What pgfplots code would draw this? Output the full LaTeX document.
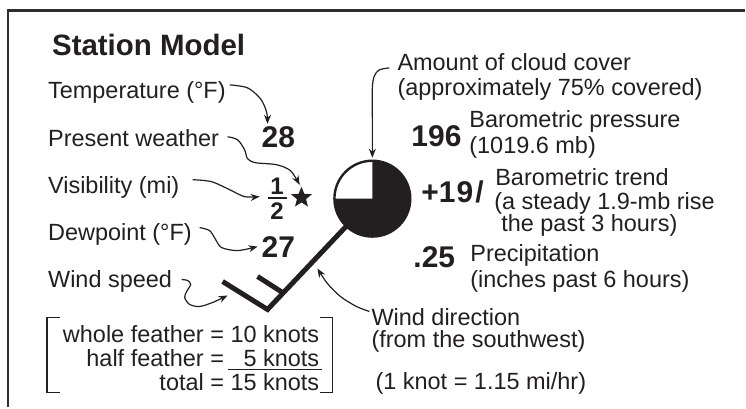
\documentclass[border=0pt]{standalone}
\usepackage{pgfplots}
\pgfplotsset{compat=1.18}
\usepackage{fontspec}
\setmainfont{Liberation Sans}
\usetikzlibrary{arrows.meta,shapes.geometric}
\definecolor{ink}{RGB}{35,31,32}
\definecolor{framec}{RGB}{45,45,45}
\begin{document}
\begin{tikzpicture}
\begin{axis}[hide axis, scale only axis, width=746pt, height=408pt,
  xmin=0, xmax=746, ymin=0, ymax=408, y dir=reverse, clip=false]
\path (axis cs:0,0) rectangle (axis cs:746,408);
% frame
\addplot[line width=2.6pt, color=framec, line join=miter] coordinates {(8,408) (8,10.5) (746,10.5)};
\tikzset{txt/.style={anchor=base west, inner sep=0pt, text=ink, font=\fontsize{23.5}{28}\selectfont},
         num/.style={anchor=base west, inner sep=0pt, text=ink, font=\fontsize{30}{34}\selectfont\bfseries},
         arr/.style={smooth, line width=1.2pt, color=ink, -{Stealth[length=9pt,width=7pt]}}}
% title and left labels
\node[anchor=base west, inner sep=0pt, text=ink, font=\fontsize{29.5}{34}\selectfont\bfseries] at (52,56) {Station Model};
\node[txt] at (48,99) {Temperature (°F)};
\node[txt] at (48,147) {Present weather};
\node[txt] at (48,194) {Visibility (mi)};
\node[txt] at (48,241) {Dewpoint (°F)};
\node[txt] at (48,288) {Wind speed};
% bracket box
\addplot[line width=1.4pt, color=ink] coordinates {(60,318) (47,318) (47,393) (60,393)};
\addplot[line width=1.4pt, color=ink] coordinates {(321,318) (333,318) (333,393) (321,393)};
\node[txt, anchor=base east] at (320,343) {whole feather = 10 knots};
\node[txt, anchor=base east] at (320,367) {half feather = \hphantom{1}5 knots};
\node[txt, anchor=base east] at (320,391) {total = 15 knots};
\addplot[line width=1.2pt, color=ink] coordinates {(228,370.5) (323,370.5)};
% numbers near station
\node[num] at (262,148) {28};
\node[num] at (262,258) {27};
\node[anchor=base, inner sep=0pt, text=ink, font=\fontsize{24}{28}\selectfont\bfseries] at (277.5,195) {1};
\node[anchor=base, inner sep=0pt, text=ink, font=\fontsize{24}{28}\selectfont\bfseries] at (277.5,220) {2};
\addplot[line width=2pt, color=ink] coordinates {(268,198) (287,198)};
\node[star, star points=5, star point ratio=2.3, fill=ink, minimum size=22pt, inner sep=0pt] at (302,198) {};
% wind barb
\addplot[line width=5pt, color=ink, line join=miter, line cap=butt] coordinates {(223,282) (268,310) (373,199)};
\addplot[line width=5pt, color=ink, line cap=butt] coordinates {(258,277) (283,293)};
% station circle
\fill[ink] (axis cs:373,199) circle[radius=38pt];
\fill[white] (axis cs:373,199) -- ++(-38pt,0pt) arc[start angle=180, end angle=90, radius=38pt] -- cycle;
\draw[ink, line width=2.4pt] (axis cs:373,199) circle[radius=38pt];
% right labels
\node[txt] at (398,71) {Amount of cloud cover};
\node[txt] at (398,96) {(approximately 75\% covered)};
\node[num] at (412,147) {196};
\node[txt] at (470,128) {Barometric pressure};
\node[txt] at (470,154) {(1019.6 mb)};
\node[num] at (422,203) {+1\kern1pt9\kern2pt/};
\node[txt] at (496,186) {Barometric trend};
\node[txt] at (495,210) {(a steady 1.9-mb rise};
\node[txt] at (502,232) {the past 3 hours)};
\node[num] at (414,268) {.25};
\node[txt] at (471,262) {Precipitation};
\node[txt] at (471,288) {(inches past 6 hours)};
\node[txt] at (372,326) {Wind direction};
\node[txt] at (372,348) {(from the southwest)};
\node[txt] at (376,390) {(1 knot = 1.15 mi/hr)};
% arrows
\addplot[arr] coordinates {(230,85) (248,88) (261,99) (267,112) (268,124)};
\addplot[arr] coordinates {(228,137) (238,140) (245,150) (248,159) (256,163) (277,165) (291,171) (300,185)};
\addplot[arr] coordinates {(193,180) (212,182) (230,190) (245,197) (260,197)};
\addplot[arr] coordinates {(200,228) (210,231) (216,240) (222,248) (238,251) (258,247)};
\addplot[arr] coordinates {(182,280) (188,281) (191,285) (187,292) (185,298) (190,305) (200,307) (213,303) (228,296)};
\addplot[arr] coordinates {(370,312) (357,307) (341,297) (328,284) (318,269)};
\addplot[arr] coordinates {(390,68) (380,70) (375,76) (373,88) (373,120) (373,158)};
\end{axis}
\end{tikzpicture}
\end{document}
